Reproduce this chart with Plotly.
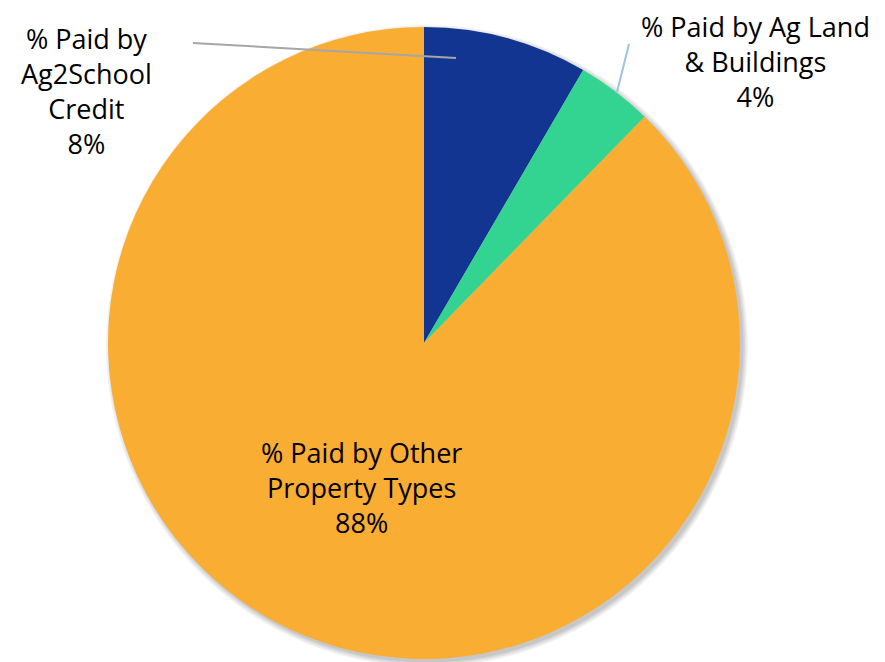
import plotly.graph_objects as go

labels = ["% Paid by Ag2School Credit", "% Paid by Ag Land & Buildings", "% Paid by Other Property Types"]
values = [8.4, 3.9, 87.7]
display_pct = ["8%", "4%", "88%"]
colors = ["#123591", "#33D391", "#F9AE33"]

W, H = 885, 662
OFF = 8  # page body margin
cx, cy, r = 424 - OFF, 343 - OFF, 316


def dom(cx, cy, r):
    return dict(x=[(cx - r) / W, (cx + r) / W], y=[(H - cy - r) / H, (H - cy + r) / H])


fig = go.Figure()
# soft shadow layers
for i, a in enumerate([0.05, 0.05, 0.06, 0.07]):
    rr = r + 5 - i * 1.5
    fig.add_trace(go.Pie(values=[1], sort=False, marker=dict(colors=[f"rgba(0,0,0,{a})"], line=dict(width=0)),
                         textinfo="none", hoverinfo="skip", showlegend=False,
                         domain=dom(cx + 3, cy + 3, rr)))

fig.add_trace(go.Pie(
    labels=labels, values=values, sort=False, direction="clockwise", rotation=0,
    marker=dict(colors=colors, line=dict(width=0)),
    textinfo="none", hoverinfo="label+percent", showlegend=False,
    domain=dom(cx, cy, r),
))

font = dict(family="Open Sans", size=27, color="#000000")
ann = [
    ("% Paid by<br>Ag2School<br>Credit<br>" + display_pct[0], 86, 91),
    ("% Paid by Ag Land<br>& Buildings<br>" + display_pct[1], 755, 62),
    ("% Paid by Other<br>Property Types<br>" + display_pct[2], 361, 487),
]
for text, x, y in ann:
    fig.add_annotation(text=text, x=(x - OFF) / W, y=1 - (y - OFF) / H, xref="paper", yref="paper",
                       showarrow=False, xanchor="center", yanchor="middle",
                       align="center", font=font, borderpad=0)

fig.add_shape(type="line", xref="paper", yref="paper",
              x0=(193 - OFF) / W, y0=1 - (43 - OFF) / H, x1=(456 - OFF) / W, y1=1 - (58 - OFF) / H,
              line=dict(color="#A6A6A6", width=2))
fig.add_shape(type="line", xref="paper", yref="paper",
              x0=(629 - OFF) / W, y0=1 - (44 - OFF) / H, x1=(617 - OFF) / W, y1=1 - (92 - OFF) / H,
              line=dict(color="#9DC3E6", width=2))

fig.update_layout(width=W, height=H, margin=dict(l=0, r=0, t=0, b=0),
                  paper_bgcolor="white", plot_bgcolor="white")
fig.write_html("out.html")
